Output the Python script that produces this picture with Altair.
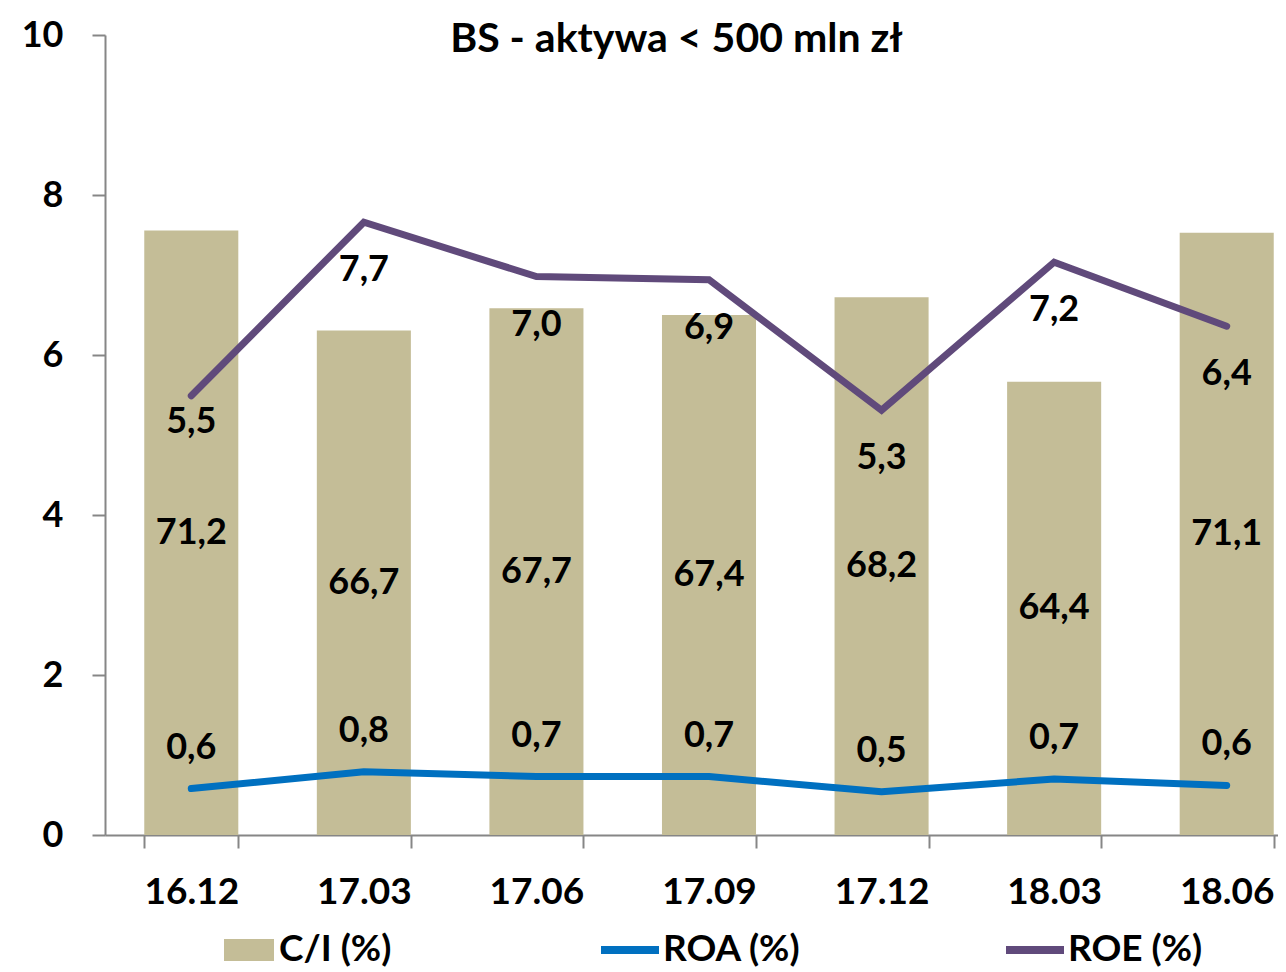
import altair as alt
import pandas as pd

periods = ["16.12", "17.03", "17.06", "17.09", "17.12", "18.03", "18.06"]
ci = [71.2, 66.7, 67.7, 67.4, 68.2, 64.4, 71.1]
roa = [0.58, 0.79, 0.73, 0.73, 0.54, 0.70, 0.62]
roe = [5.49, 7.66, 6.98, 6.94, 5.31, 7.16, 6.36]

CI_NAME = "C/I (%)"
ROA_NAME = "ROA (%)"
ROE_NAME = "ROE (%)"

TAN = "#C4BD97"
BLUE = "#0070C0"
PURPLE = "#604A7B"
GRAY = "#868686"
FONT = "Lato"


def fmt(v):
    return f"{v:.1f}".replace(".", ",")


df_ci = pd.DataFrame({"period": periods, "value": ci, "series": CI_NAME,
                      "label": [fmt(v) for v in ci]})
df_roa = pd.DataFrame({"period": periods, "value": roa, "series": ROA_NAME,
                       "label": [fmt(v) for v in roa]})
df_roe = pd.DataFrame({"period": periods, "value": roe, "series": ROE_NAME,
                       "label": [fmt(v) for v in roe]})

x_enc = alt.X(
    "period:N",
    sort=periods,
    scale=alt.Scale(range=[0, 1208], paddingInner=0.455, paddingOuter=0.2275),
    axis=alt.Axis(
        title=None, labelAngle=0, tickBand="extent", tickSize=13,
        domainColor=GRAY, tickColor=GRAY, domainWidth=2, tickWidth=2,
        labelFont=FONT, labelFontSize=37, labelFontWeight="bold",
        labelColor="black", labelPadding=26,
    ),
)

ci_scale = alt.Scale(domain=[44, 80], nice=False, zero=False)
left_scale = alt.Scale(domain=[0, 10], nice=False)


def legend(x, y, symbol_type, size, offset, stroke_width=None):
    kw = dict(
        orient="none", legendX=x, legendY=y, title=None,
        labelFont=FONT, labelFontSize=37, labelFontWeight="bold",
        labelColor="black", labelOffset=offset, padding=0,
        symbolType=symbol_type, symbolSize=size, symbolOpacity=1,
    )
    if stroke_width is not None:
        kw["symbolStrokeWidth"] = stroke_width
    return alt.Legend(**kw)


bars = alt.Chart(df_ci).mark_bar().encode(
    x=x_enc,
    y=alt.Y("value:Q", scale=ci_scale, axis=None),
    y2=alt.datum(44),
    color=alt.Color(
        "series:N",
        scale=alt.Scale(domain=[CI_NAME], range=[TAN]),
        legend=legend(118, 889, "M-1,-0.44H1V0.44H-1Z", 2500, 4),
    ),
)

text_style = dict(font=FONT, fontSize=36, fontWeight="bold", color="black",
                  baseline="middle", align="center")

bar_text = alt.Chart(df_ci).transform_calculate(
    mid="(datum.value + 44) / 2"
).mark_text(**text_style).encode(
    x=alt.X("period:N", sort=periods),
    y=alt.Y("mid:Q", scale=ci_scale, axis=None),
    text="label:N",
)

left = alt.layer(bars, bar_text)

y_left = alt.Y(
    "value:Q",
    scale=left_scale,
    axis=alt.Axis(
        orient="left", title=None, values=[0, 2, 4, 6, 8, 10], format="d",
        grid=False, tickSize=13, domainColor=GRAY, tickColor=GRAY,
        domainWidth=2, tickWidth=2, labelFont=FONT, labelFontSize=36,
        labelFontWeight="bold", labelColor="black", labelPadding=29,
    ),
)

roa_line = alt.Chart(df_roa).mark_line(
    strokeWidth=7, strokeCap="round", strokeJoin="round"
).encode(
    x=alt.X("period:N", sort=periods),
    y=y_left,
    color=alt.Color(
        "series:N",
        scale=alt.Scale(domain=[ROA_NAME], range=[BLUE]),
        legend=legend(492, 882, "stroke", 3364, 0, 8),
    ),
)

roe_line = alt.Chart(df_roe).mark_line(
    strokeWidth=7, strokeCap="round", strokeJoin="miter"
).encode(
    x=alt.X("period:N", sort=periods),
    y=alt.Y("value:Q", scale=left_scale),
    color=alt.Color(
        "series:N",
        scale=alt.Scale(domain=[ROE_NAME], range=[PURPLE]),
        legend=legend(897, 882, "stroke", 3364, 0, 8),
    ),
)

roa_text = alt.Chart(df_roa).mark_text(dy=-41, **text_style).encode(
    x=alt.X("period:N", sort=periods),
    y=alt.Y("value:Q", scale=left_scale),
    text="label:N",
)

roe_text = alt.Chart(df_roe).transform_filter(
    alt.datum.period != periods[0]
).mark_text(dy=48, **text_style).encode(
    x=alt.X("period:N", sort=periods),
    y=alt.Y("value:Q", scale=left_scale),
    text="label:N",
)

roe_text_first = alt.Chart(df_roe).transform_filter(
    alt.datum.period == periods[0]
).mark_text(dy=26, **text_style).encode(
    x=alt.X("period:N", sort=periods),
    y=alt.Y("value:Q", scale=left_scale),
    text="label:N",
)

right = alt.layer(
    roa_line, roe_line, roa_text, roe_text, roe_text_first
).resolve_scale(color="independent")

chart = alt.layer(left, right).resolve_scale(
    y="independent", color="independent"
).properties(
    width=1173,
    height=800,
    padding={"left": 97, "top": 27, "right": 0, "bottom": 137},
    autosize=alt.AutoSizeParams(type="none"),
    background="white",
    title=alt.TitleParams(
        "BS - aktywa < 500 mln zł", font=FONT, fontSize=41, fontWeight="bold",
        color="black", anchor="middle", frame="group", baseline="alphabetic",
        offset=-76, dx=-15,
    ),
).configure_view(stroke=None)

chart.save("out.html", embed_options={"renderer": "svg", "actions": False})
